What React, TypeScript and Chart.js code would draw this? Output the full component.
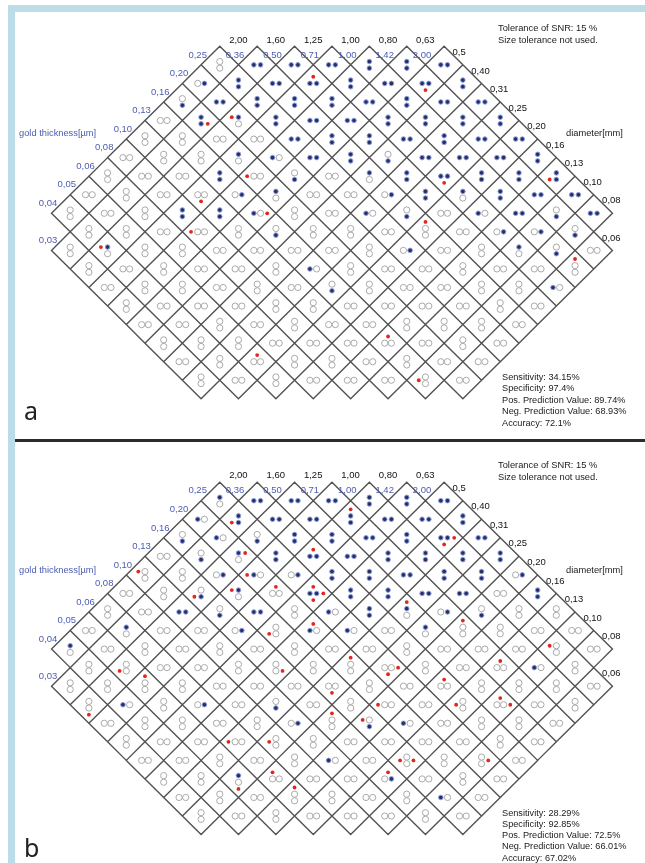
import React, { useEffect, useRef } from "react";
import { Chart, registerables } from "chart.js";

Chart.register(...registerables);

// ---------- data ----------
// diameters (mm), column a = 0..15 (label text as printed)
const diameterLabels = ["2,00", "1,60", "1,25", "1,00", "0,80", "0,63", "0,5", "0,40", "0,31", "0,25", "0,20", "0,16", "0,13", "0,10", "0,08", "0,06"];
// gold thickness (µm), row b = 0..15
const thicknessLabels = ["2,00", "1,42", "1,00", "0,71", "0,50", "0,36", "0,25", "0,20", "0,16", "0,13", "0,10", "0,08", "0,06", "0,05", "0,04", "0,03"];

// Each string = one horizontal row of cells (a+b = 6 ... 23), left to right.
// code: orientation (h/v), disc1 state, disc2 state (b = detected, o = not detected),
// then optional false-detection marks: anchor (0 centre, 1 disc1, 2 disc2) + side (l r u d)
const panelARows = [
  "voo hbb hbb hbb vbb vbb hbb",
  "hob vbb hbb hbb0u vbb hbb hbb0d vbb",
  "vob hbb vbb vbb vbb hbb vbb hbb hbb",
  "hoo vbb2r vbo1l vbb hbb hbb vbb vbb vbb vbb",
  "voo voo hoo hoo hbb vbb vbb hbb vbb hbb hbb",
  "hoo voo voo vbo hbo hbb vbb vob hbb hbb hbb vbb",
  "voo hoo hoo vbb hoo1l vob hoo vbo vbb hbb0d vbb vbb vbb2l",
  "hoo voo hoo hoo0d hob vbo hoo hoo hob vbb vbo vbb hbb hbb",
  "voo hoo voo vbb vbb hbo2r voo hoo hbo vob hoo hbo hbb vob hbb",
  "voo voo hoo hoo1l voo vob voo voo hoo voo1u hoo hob hob vob",
  "voo vbo1l voo voo hoo hoo hoo hoo voo hob hoo voo vbo vob hoo",
  "voo hoo voo hoo hoo voo hbo voo hoo hoo voo hoo hoo voo1u",
  "hoo voo voo hoo voo hoo vob voo hoo hoo voo voo hbo",
  "voo hoo hoo hoo voo voo hoo hoo hoo hoo voo hoo",
  "hoo hoo voo hoo voo hoo hoo voo voo voo hoo",
  "voo voo voo hoo hoo hoo hoo0u hoo voo hoo",
  "hoo voo hoo0u voo voo hoo voo hoo hoo",
  "voo hoo voo hoo hoo hoo voo0l hoo",
];

const panelBRows = [
  "vbo hbb hbb hbb vbb vbb hbb",
  "hbo vbb2l hbb hbb vbb1u hbb hbb vbb",
  "vob hbo vob vbb vbb hbb vbb hbb2r0d hbb",
  "hoo vob vbo1r vbb hbb0u hbb vbb vbb vbb vbb",
  "voo1l voo hob hbo1l hob vbb vbb hbb vbb vbb hob",
  "hoo voo vob2l vbo1l hoo0u hbb0u0d2r vbb vbb hbb hbb hoo vbb",
  "voo hoo hbb vob hbb voo hbo vbb vbo1u hob vob voo voo",
  "hoo vbo hoo hoo hob voo2l hbo0u hbo hoo vbo voo1u voo hoo hoo",
  "vbo hoo voo hoo voo hoo voo hoo hoo voo hoo hoo hoo voo1l hoo",
  "voo voo2l hoo hoo voo voo2r voo voo1u hoo2r0d voo hoo hoo0u hbo voo",
  "voo voo voo1u voo hoo hoo hoo hoo0d voo hoo hoo0u voo voo voo hoo",
  "voo2d hbo voo hob hoo vob hoo voo hoo1l hoo voo0l hoo0u2r hoo voo",
  "hoo voo voo hoo voo hob voo1u vob1l hbo hoo voo voo hoo",
  "voo hoo hoo hoo1l voo0l voo hoo hoo hoo hoo voo hoo",
  "hoo hoo voo hoo voo hbo hoo voo0l0r voo voo0r hoo",
  "voo voo vbo2d hoo1u hoo hoo hob0u hoo voo hoo",
  "hoo voo hoo voo1u voo hoo voo hbo hoo",
  "voo hoo voo hoo hoo hoo voo hoo",
];

const panelAStats = ["Sensitivity: 34.15%", "Specificity: 97.4%", "Pos. Prediction Value: 89.74%", "Neg. Prediction Value: 68.93%", "Accuracy: 72.1%"];
const panelBStats = ["Sensitivity: 28.29%", "Specificity: 92.85%", "Pos. Prediction Value: 72.5%", "Neg. Prediction Value: 66.01%", "Accuracy: 67.02%"];
const noteLines = ["Tolerance of SNR: 15 %", "Size tolerance not used."];
const thicknessTitle = "gold thickness[µm]";
const diameterTitle = "diameter[mm]";

// ---------- layout / style constants ----------
const TOP_ROW = 6; // first row index (a+b) present in the phantom grid
const N = 16;
const H = 19; // half diagonal of a cell in px
const CANVAS_W = 630;
const CANVAS_LEFT = 15;
const ORIGIN_X = 332 - CANVAS_LEFT; // px of lattice u=0 inside canvas
const DISC = 3.4 / H; // disc offset in lattice units
const LABEL_FONT = "9.5px 'Liberation Sans', Arial, sans-serif";
const BLUE_TEXT = "#4c5cb3";

type Cell = { u: number; s: number; code: string };

function buildCells(rows: string[]): Cell[] {
  const cells: Cell[] = [];
  rows.forEach((row, i) => {
    const s = TOP_ROW + i;
    const codes = row.trim().split(/\s+/);
    let k = 0;
    for (let a = Math.max(0, s - (N - 1)); a <= Math.min(N - 1, s); a++) {
      const b = s - a;
      if ((a === 0 && b === N - 1) || (a === N - 1 && b === 0)) continue;
      cells.push({ u: a - b, s, code: codes[k++] || "hoo" });
    }
  });
  return cells;
}

function buildPoints(cells: Cell[]) {
  const grey: { x: number; y: number }[] = [];
  const blue: { x: number; y: number }[] = [];
  const red: { x: number; y: number }[] = [];
  cells.forEach(({ u, s, code }) => {
    const horiz = code[0] === "h";
    const d1 = horiz ? { x: u - DISC, y: s } : { x: u, y: s - DISC };
    const d2 = horiz ? { x: u + DISC, y: s } : { x: u, y: s + DISC };
    (code[1] === "b" ? blue : grey).push(d1);
    (code[2] === "b" ? blue : grey).push(d2);
    for (let i = 3; i + 1 < code.length; i += 2) {
      const anchor = code[i] === "1" ? d1 : code[i] === "2" ? d2 : { x: u, y: s };
      const dir = code[i + 1];
      const st = 2 * DISC;
      const dx = dir === "l" ? -st : dir === "r" ? st : 0;
      const dy = dir === "u" ? -st : dir === "d" ? st : 0;
      red.push({ x: anchor.x + dx, y: anchor.y + dy });
    }
  });
  return { grey, blue, red };
}

function makePlugin(cells: Cell[]) {
  return {
    id: "phantomGrid",
    beforeDatasetsDraw(chart: any) {
      const ctx = chart.ctx;
      const xs = chart.scales.x;
      const ys = chart.scales.y;
      ctx.save();
      ctx.strokeStyle = "#525252";
      ctx.lineWidth = 1.4;
      ctx.beginPath();
      cells.forEach(({ u, s }) => {
        ctx.moveTo(xs.getPixelForValue(u), ys.getPixelForValue(s - 1));
        ctx.lineTo(xs.getPixelForValue(u + 1), ys.getPixelForValue(s));
        ctx.lineTo(xs.getPixelForValue(u), ys.getPixelForValue(s + 1));
        ctx.lineTo(xs.getPixelForValue(u - 1), ys.getPixelForValue(s));
        ctx.closePath();
      });
      ctx.stroke();
      ctx.restore();
    },
    afterDatasetsDraw(chart: any) {
      const ctx = chart.ctx;
      const xs = chart.scales.x;
      const ys = chart.scales.y;
      const hx = xs.getPixelForValue(0.5) - xs.getPixelForValue(0);
      const hy = ys.getPixelForValue(0.5) - ys.getPixelForValue(0);
      ctx.save();
      ctx.font = LABEL_FONT;
      ctx.textBaseline = "alphabetic";
      // thickness labels: upper-left side of the first cell of each row b
      thicknessLabels.forEach((t, b) => {
        const a = b === N - 1 ? 1 : Math.max(0, TOP_ROW - b);
        const cx = xs.getPixelForValue(a - b);
        const cy = ys.getPixelForValue(a + b);
        ctx.fillStyle = BLUE_TEXT;
        ctx.textAlign = "right";
        ctx.fillText(t, cx - hx - 3.5, cy - hy + 2);
      });
      // diameter labels: upper-right side of the first cell of each column a
      diameterLabels.forEach((d, a) => {
        const b = a === N - 1 ? 1 : Math.max(0, TOP_ROW - a);
        const cx = xs.getPixelForValue(a - b);
        const cy = ys.getPixelForValue(a + b);
        ctx.fillStyle = "#111";
        ctx.textAlign = "left";
        if (a + b === TOP_ROW && a < TOP_ROW) ctx.fillText(d, cx + hx, cy - hy - 13);
        else ctx.fillText(d, cx + hx - 1, cy - hy - 0.6);
      });
      ctx.restore();
    },
  };
}

function Panel({ rows, top, height, originY }: { rows: string[]; top: number; height: number; originY: number }) {
  const ref = useRef<HTMLCanvasElement>(null);
  useEffect(() => {
    const cells = buildCells(rows);
    const pts = buildPoints(cells);
    const chart = new Chart(ref.current as HTMLCanvasElement, {
      type: "scatter",
      data: {
        datasets: [
          { data: pts.grey, pointStyle: "circle", pointRadius: 3.1, pointBorderWidth: 1, pointBorderColor: "#a9a9a9", pointBackgroundColor: "rgba(255,255,255,0)", clip: false } as any,
          { data: pts.blue, pointStyle: "circle", pointRadius: 2.3, pointBorderWidth: 1, pointBorderColor: "#8d9fd8", pointBackgroundColor: "#262f6c", clip: false } as any,
          { data: pts.red, pointStyle: "circle", pointRadius: 1.9, pointBorderWidth: 0, pointBackgroundColor: "#e1261d", clip: false } as any,
        ],
      },
      options: {
        animation: false,
        responsive: false,
        maintainAspectRatio: false,
        devicePixelRatio: 1,
        events: [],
        layout: { padding: 0 },
        plugins: { legend: { display: false }, tooltip: { enabled: false }, title: { display: false } },
        scales: {
          x: { type: "linear", display: false, min: -ORIGIN_X / H, max: (CANVAS_W - ORIGIN_X) / H },
          y: { type: "linear", display: false, reverse: true, min: -originY / H, max: (height - originY) / H },
        },
      },
      plugins: [makePlugin(cells)],
    });
    return () => chart.destroy();
  }, []);
  return (
    <canvas
      ref={ref}
      width={CANVAS_W}
      height={height}
      style={{ position: "absolute", left: CANVAS_LEFT, top, width: CANVAS_W, height }}
    />
  );
}

const textBase: React.CSSProperties = {
  position: "absolute",
  fontFamily: "'Liberation Sans', Arial, sans-serif",
  whiteSpace: "nowrap",
  color: "#1a1a1a",
};

function Texts({ dy, stats, statsTop, statsGap }: { dy: number; stats: string[]; statsTop: number; statsGap: number }) {
  return (
    <>
      <div style={{ ...textBase, left: 498, top: 22 + dy, fontSize: 9.3, lineHeight: "12px" }}>
        {noteLines.map((l) => (
          <div key={l}>{l}</div>
        ))}
      </div>
      <div style={{ ...textBase, left: 19, top: 126.5 + dy, fontSize: 9.3, lineHeight: "12px", color: BLUE_TEXT }}>{thicknessTitle}</div>
      <div style={{ ...textBase, left: 566, top: 126.5 + dy, fontSize: 9.3, lineHeight: "12px" }}>{diameterTitle}</div>
      <div style={{ ...textBase, left: 502, top: statsTop, fontSize: 9.2, lineHeight: statsGap + "px" }}>
        {stats.map((l) => (
          <div key={l}>{l}</div>
        ))}
      </div>
    </>
  );
}

export default function App() {
  return (
    <div style={{ position: "absolute", left: 0, top: 0, width: 645, height: 863, background: "#fff", overflow: "hidden" }}>
      <div style={{ position: "absolute", left: 8, top: 5, width: 637, height: 7, background: "#bddcea" }} />
      <div style={{ position: "absolute", left: 8, top: 5, width: 7, height: 858, background: "#bddcea" }} />
      <div style={{ position: "absolute", left: 15, top: 439, width: 630, height: 2.5, background: "#2b2b2b" }} />
      <Panel rows={panelARows} top={12} height={426} originY={-65} />
      <Panel rows={panelBRows} top={442} height={421} originY={-59} />
      <Texts dy={0} stats={panelAStats} statsTop={371.5} statsGap={11.5} />
      <Texts dy={437} stats={panelBStats} statsTop={807.5} statsGap={11.3} />
      <div style={{ ...textBase, left: 24, top: 397.5, fontSize: 25, lineHeight: "25px", fontFamily: "'Noto Sans', sans-serif", color: "#222" }}>a</div>
      <div style={{ ...textBase, left: 24, top: 834.5, fontSize: 25, lineHeight: "25px", fontFamily: "'Noto Sans', sans-serif", color: "#222" }}>b</div>
    </div>
  );
}
